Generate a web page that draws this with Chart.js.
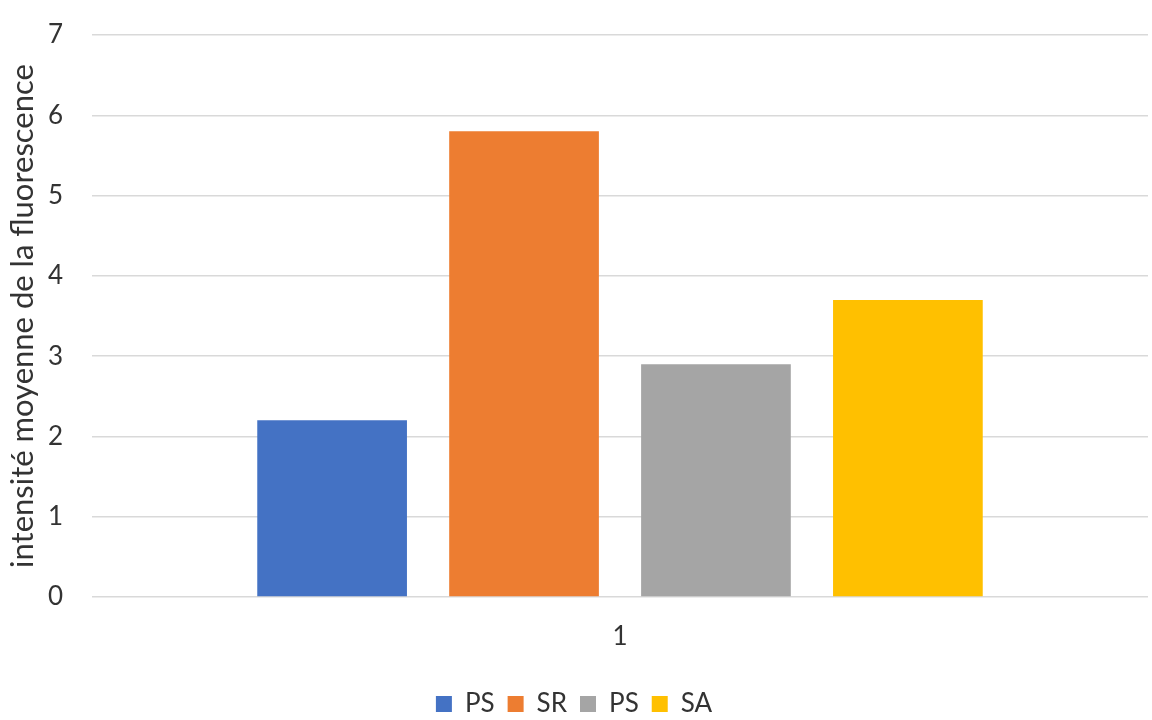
<!DOCTYPE html>
<html lang="fr">
<head>
    <meta charset="UTF-8">
    <title>Intensité moyenne de la fluorescence</title>
    <script src="https://cdn.jsdelivr.net/npm/chart.js"></script>
    <style>
        body { margin: 0; background: #fff; }
        .chart-container { width: 1152px; height: 720px; }
    </style>
</head>
<body>
    <div class="chart-container">
        <canvas id="fluoChart"></canvas>
    </div>

    <script>
        // Data
        const categories = ['1'];
        const seriesNames = ['PS', 'SR', 'PS', 'SA'];
        const seriesValues = [2.2, 5.8, 2.9, 3.7];
        const seriesColors = ['#4472C4', '#ED7D31', '#A5A5A5', '#FFC000'];
        const yTicks = [0, 1, 2, 3, 4, 5, 6, 7];

        const textColor = '#333333';
        const fontFamily = 'Lato, "Open Sans", sans-serif';

        const datasets = seriesNames.map((name, i) => ({
            label: name,
            data: [seriesValues[i]],
            backgroundColor: seriesColors[i],
            borderWidth: 0,
            categoryPercentage: 0.727,
            barPercentage: 0.78
        }));

        const ctx = document.getElementById('fluoChart').getContext('2d');
        new Chart(ctx, {
            type: 'bar',
            data: {
                labels: categories,
                datasets: datasets
            },
            options: {
                responsive: true,
                maintainAspectRatio: false,
                animation: false,
                layout: {
                    padding: { left: 0, right: 4, top: 35, bottom: -7 }
                },
                plugins: {
                    legend: {
                        position: 'bottom',
                        labels: {
                            boxWidth: 16,
                            boxHeight: 16,
                            padding: 13,
                            color: textColor,
                            font: { family: fontFamily, size: 26 }
                        }
                    },
                    tooltip: { enabled: false }
                },
                scales: {
                    x: {
                        grid: { display: false },
                        border: { display: false },
                        afterFit: axis => { axis.height = 81; },
                        ticks: {
                            color: textColor,
                            padding: 16,
                            font: { family: fontFamily, size: 26 }
                        }
                    },
                    y: {
                        min: yTicks[0],
                        max: yTicks[yTicks.length - 1],
                        afterBuildTicks: axis => {
                            axis.ticks = yTicks.map(v => ({ value: v }));
                        },
                        afterFit: axis => {
                            axis.width = 92;
                            axis.paddingTop = 10;
                            axis.paddingBottom = 10;
                        },
                        grid: {
                            color: '#d9d9d9',
                            lineWidth: 1.5,
                            drawTicks: false
                        },
                        border: { display: false },
                        ticks: {
                            color: textColor,
                            padding: 29,
                            font: { family: fontFamily, size: 26 }
                        },
                        title: {
                            display: true,
                            text: 'intensité moyenne de la fluorescence',
                            color: textColor,
                            padding: { top: 4, bottom: 0 },
                            font: { family: fontFamily, size: 31 }
                        }
                    }
                }
            }
        });
    </script>
</body>
</html>
